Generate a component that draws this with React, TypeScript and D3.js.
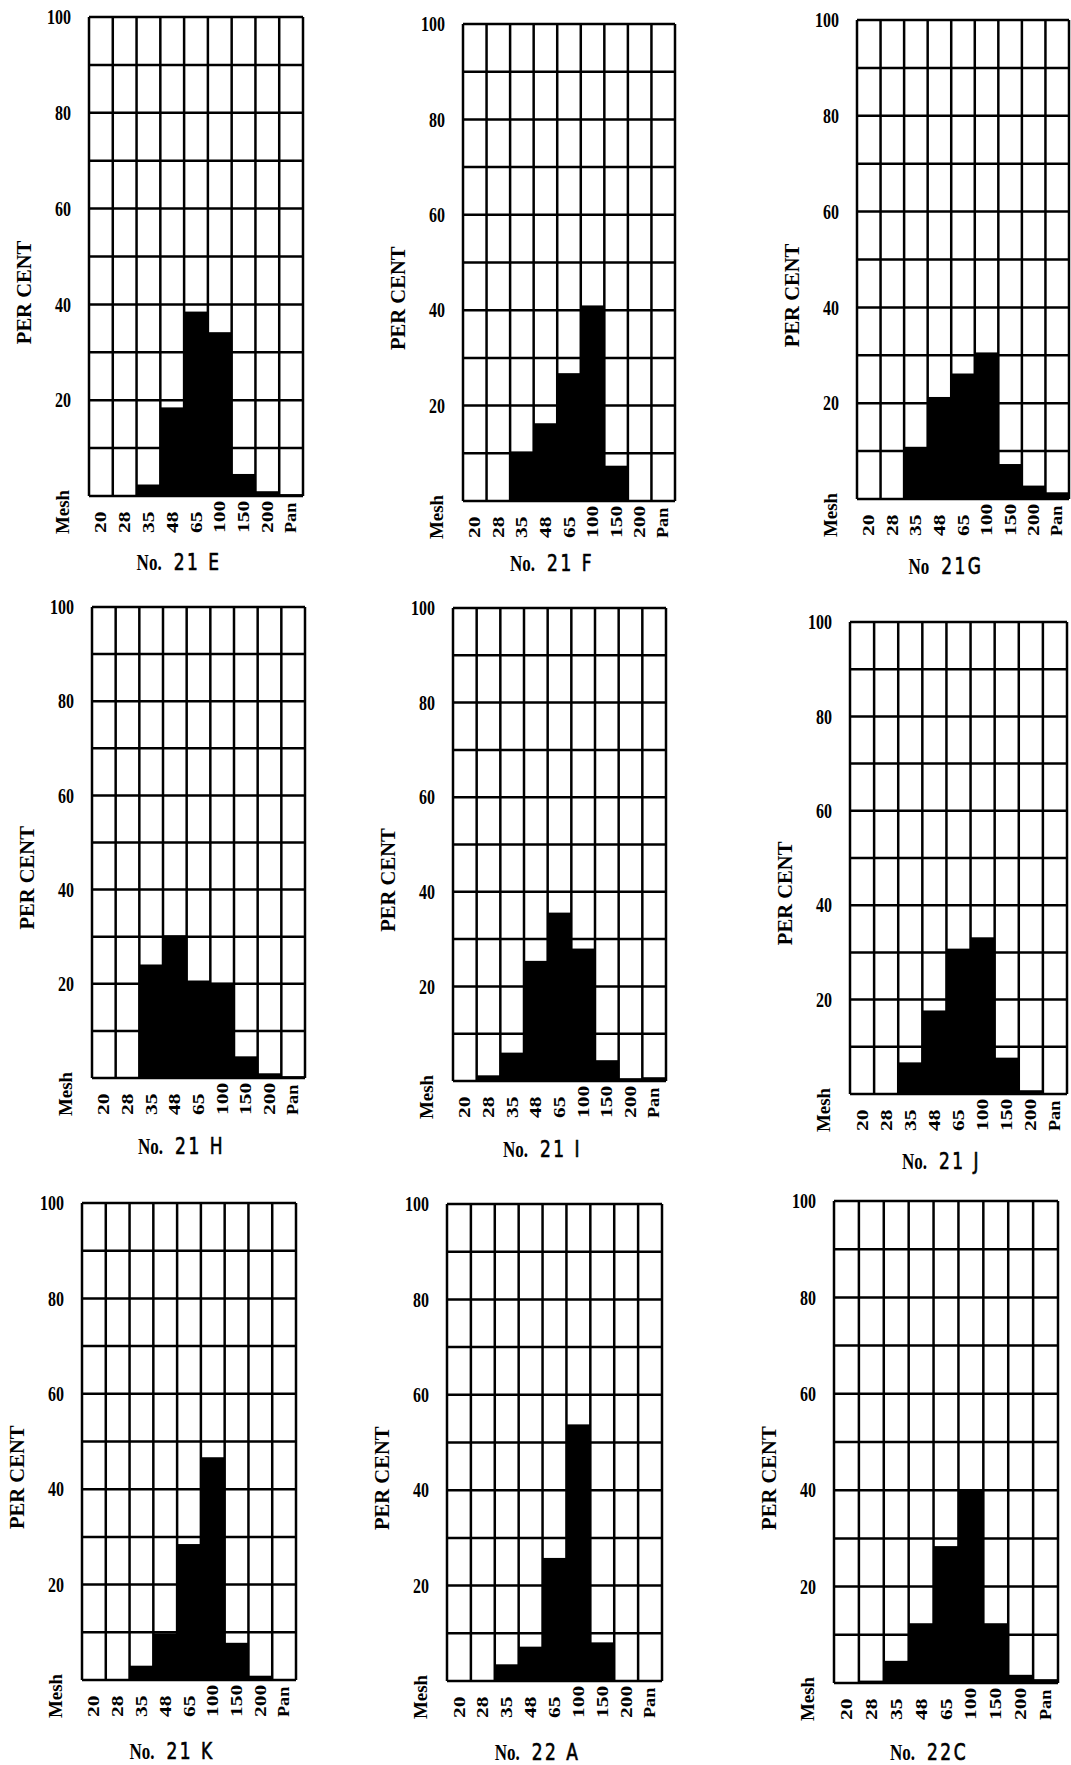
import React from 'react';
import * as d3 from 'd3';

// sieve fractions, per cent retained on each mesh
const meshSizes = ["20", "28", "35", "48", "65", "100", "150", "200", "Pan"];
const percentTicks = [20, 40, 60, 80, 100];
const gridLevels = [0, 10, 20, 30, 40, 50, 60, 70, 80, 90, 100];

const sampleNo = ["No.", "No.", "No", "No.", "No.", "No.", "No.", "No.", "No."];
const sampleIds = ["21 E", "21 F", "21G", "21 H", "21 I", "21 J", "21 K", "22  A", "22C"];

const no21E = [0, 0, 2.4, 18.5, 38.5, 34.2, 4.6, 1.0, 0.4];
const no21F = [0, 0, 10.4, 16.3, 26.8, 41.0, 7.4, 0, 0];
const no21G = [0, 0, 10.9, 21.3, 26.2, 30.6, 7.3, 2.8, 1.4];
const no21H = [0, 0, 24.1, 30.3, 20.7, 20.2, 4.6, 1.0, 0.4];
const no21I = [0, 1.2, 6.0, 25.4, 35.6, 28.0, 4.4, 0.6, 0.8];
const no21J = [0, 0, 6.7, 17.7, 30.8, 33.2, 7.7, 0.8, 0];
const no21K = [0, 0, 3.0, 9.8, 28.5, 46.7, 7.8, 0.9, 0];
const no22A = [0, 0, 3.5, 7.2, 25.8, 53.8, 8.1, 0.2, 0];
const no22C = [0, 0.5, 4.6, 12.4, 28.4, 40.0, 12.4, 1.7, 0.8];

const samples = [no21E, no21F, no21G, no21H, no21I, no21J, no21K, no22A, no22C];

// panel frames on the page: left, top, width, height, title offset below frame
const frames = [
  [89, 17, 214, 479, 74], [463, 24, 212, 477, 70], [857, 20, 212, 479, 75],
  [92, 607, 213, 471, 76], [453, 608, 213, 473, 76], [850, 622, 217, 472, 75],
  [82, 1203, 214, 477, 79], [447, 1204, 215, 477, 79], [834, 1201, 224, 482, 77],
];

const serif = '"Liberation Serif", "DejaVu Serif", serif';

function Panel({ frame, values, no, id }) {
  const [left, top, w, h, titleGap] = frame;
  const x = d3.scaleBand().domain(meshSizes).range([left, left + w]).padding(0);
  const y = d3.scaleLinear().domain([0, 100]).range([top + h, top]);
  const bottom = top + h;

  return (
    <g>
      {/* grid */}
      {gridLevels.map(v => (
        <line key={'h' + v} x1={left} x2={left + w} y1={y(v)} y2={y(v)} stroke="#000" strokeWidth={2.5} />
      ))}
      {meshSizes.map(m => (
        <line key={'v' + m} x1={x(m)} x2={x(m)} y1={top} y2={bottom} stroke="#000" strokeWidth={2.5} />
      ))}
      <line x1={left + w} x2={left + w} y1={top} y2={bottom} stroke="#000" strokeWidth={2.5} />
      {/* bars */}
      {values.map((v, i) => v > 0 && (
        <rect key={'b' + i} x={x(meshSizes[i])} y={y(v)} width={x.bandwidth()}
          height={bottom - y(v)} fill="#000" />
      ))}
      {/* y tick labels */}
      {percentTicks.map(t => (
        <text key={'t' + t} transform={`translate(${left - 18},${y(t)}) scale(1,1.3)`} textAnchor="end"
          dominantBaseline="central" fontFamily={serif} fontWeight="bold" fontSize={16}>{t}</text>
      ))}
      <text transform={`translate(${left - 65},${y(42.5)}) rotate(-90) scale(1.03,1)`} textAnchor="middle"
        dominantBaseline="central" fontFamily={serif} fontWeight="bold" fontSize={20}>PER CENT</text>
      {/* mesh labels */}
      <text transform={`translate(${left - 26},${bottom + 38}) rotate(-90) scale(1.05,1)`}
        dominantBaseline="central" fontFamily={serif} fontWeight="bold" fontSize={18}>Mesh</text>
      {meshSizes.map(m => (
        <text key={'m' + m}
          transform={`translate(${x(m) + x.bandwidth() / 2},${bottom + 37}) rotate(-90) scale(${m === 'Pan' ? 1.1 : 1.3},1)`}
          dominantBaseline="central" fontFamily={serif} fontWeight="bold" fontSize={16.5}>{m}</text>
      ))}
      {/* title */}
      <text transform={`translate(${left + w / 2 - 17},${bottom + titleGap}) scale(1,1.3)`} textAnchor="middle">
        <tspan fontFamily={serif} fontWeight="bold" fontSize={17}>{no}</tspan>
        <tspan dx={12} fontFamily='"DejaVu Sans", sans-serif' fontSize={17} letterSpacing={2.5}
          stroke="#000" strokeWidth={0.5}>{id}</tspan>
      </text>
    </g>
  );
}

export default function App() {
  return (
    <svg width={1071} height={1765} style={{ position: 'absolute', left: 0, top: 0, background: '#fff' }}>
      <rect width={1071} height={1765} fill="#fff" />
      {samples.map((vals, i) => (
        <Panel key={i} frame={frames[i]} values={vals} no={sampleNo[i]} id={sampleIds[i]} />
      ))}
    </svg>
  );
}
